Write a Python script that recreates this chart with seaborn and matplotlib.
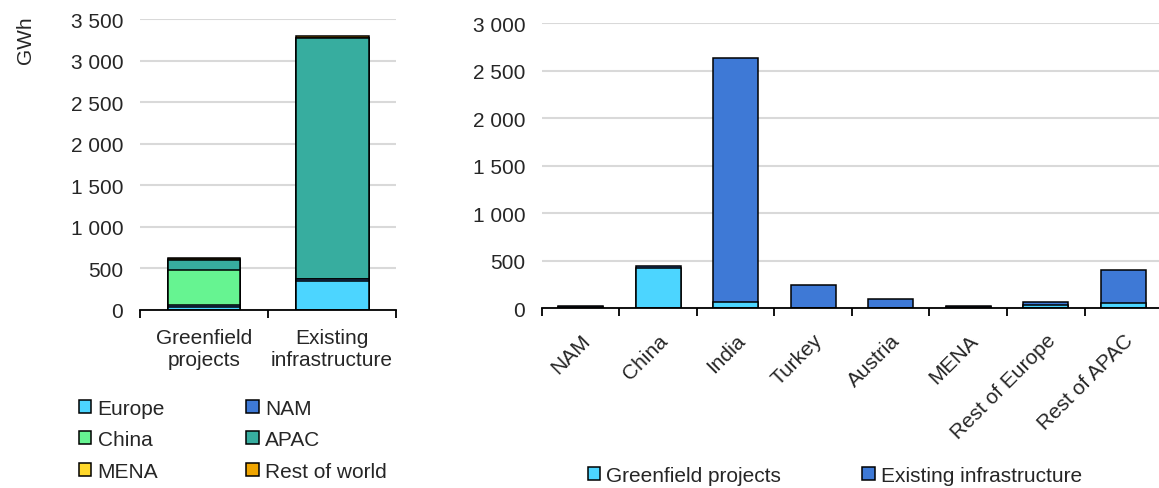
import numpy as np
import pandas as pd
import seaborn as sns
import matplotlib.pyplot as plt
from matplotlib.patches import Patch
from matplotlib.ticker import FuncFormatter, FixedLocator

# Données - graphique de gauche (par type de projet, empilé par région)
projets = ['Greenfield\nprojects', 'Existing\ninfrastructure']
regions = ['Europe', 'NAM', 'China', 'APAC', 'MENA', 'Rest of world']
europe = [35, 340]
nam = [15, 25]
china = [430, 0]
apac = [122, 2905]
mena = [5, 5]
rest_world = [10, 15]

# Données - graphique de droite (par pays, empilé par type)
pays = ['NAM', 'China', 'India', 'Turkey', 'Austria', 'MENA', 'Rest of Europe', 'Rest of APAC']
greenfield = [6, 425, 66, 4, 2, 8, 28, 49]
existing = [18, 15, 2565, 241, 90, 10, 32, 354]

couleurs_reg = ['#4cd5ff', '#3e79d6', '#66f491', '#37ad9f', '#ffd82b', '#f0a500']
couleurs_type = ['#4cd5ff', '#3e79d6']

sns.set_style('white')
plt.rcParams['font.family'] = ['Liberation Sans', 'DejaVu Sans']
fs = 15

fmt = FuncFormatter(lambda v, p: f'{v:,.0f}'.replace(',', ' '))


def empiler(ax, cats, series, couleurs, width):
    # barres cumulées, de la plus haute à la plus basse
    cum = np.cumsum(np.array(series), axis=0)
    for i in range(len(series) - 1, -1, -1):
        df = pd.DataFrame({'cat': cats, 'val': cum[i]})
        sns.barplot(data=df, x='cat', y='val', color=couleurs[i], saturation=1,
                    width=width, edgecolor='black', linewidth=1.1, ax=ax, zorder=3)


def style_axe(ax, n, ymax, step):
    ax.set_ylim(0, ymax)
    ax.set_xlim(-0.5, n - 0.5)
    ax.yaxis.set_major_locator(FixedLocator(np.arange(0, ymax + 1, step)))
    ax.yaxis.set_major_formatter(fmt)
    ax.grid(axis='y', color='#d9d9d9', linewidth=1.5, zorder=0)
    ax.set_axisbelow(True)
    for s in ['top', 'right', 'left']:
        ax.spines[s].set_visible(False)
    ax.spines['bottom'].set_color('black')
    ax.spines['bottom'].set_linewidth(1.3)
    ax.spines['bottom'].set_zorder(5)
    ax.set_xticks(np.arange(-0.5, n), minor=True)
    ax.tick_params(axis='x', which='minor', length=6, width=1.3, color='black', bottom=True)
    ax.tick_params(axis='x', which='major', length=0, labelsize=fs)
    ax.tick_params(axis='y', length=0, labelsize=fs, pad=12)
    ax.set_xlabel('')
    ax.set_ylabel('')


fig = plt.figure(figsize=(11.59, 4.89), dpi=100)
ax1 = fig.add_axes([0.1208, 0.365, 0.2209, 0.594])
ax2 = fig.add_axes([0.4676, 0.368, 0.535, 0.582])

empiler(ax1, projets, [europe, nam, china, apac, mena, rest_world], couleurs_reg, 0.57)
style_axe(ax1, len(projets), 3500, 500)
ax1.tick_params(axis='x', which='major', pad=13)

empiler(ax2, pays, [greenfield, existing], couleurs_type, 0.58)
style_axe(ax2, len(pays), 3000, 500)
for lab in ax2.get_xticklabels():
    lab.set_rotation(45)
    lab.set_ha('right')
    lab.set_va('top')
    lab.set_rotation_mode('anchor')
ax2.tick_params(axis='x', which='major', pad=16)

fig.text(0.022, 0.918, 'GWh', rotation=90, ha='center', va='center', fontsize=fs)

# légende gauche (ordre par colonne)
ordre = [0, 2, 4, 1, 3, 5]
h1 = [Patch(facecolor=couleurs_reg[i], edgecolor='black', linewidth=1.1) for i in ordre]
fig.legend(h1, [regions[i] for i in ordre], loc='upper left', bbox_to_anchor=(0.068, 0.183),
           ncol=2, frameon=False, fontsize=fs, handlelength=0.6, handleheight=0.6,
           handletextpad=0.3, columnspacing=3.9, labelspacing=0.6, borderpad=0, borderaxespad=0)

h2 = [Patch(facecolor=c, edgecolor='black', linewidth=1.1) for c in couleurs_type]
fig.legend(h2, ['Greenfield projects', 'Existing infrastructure'], loc='upper left',
           bbox_to_anchor=(0.507, 0.045), ncol=2, frameon=False, fontsize=fs,
           handlelength=0.6, handleheight=0.6, handletextpad=0.3, columnspacing=3.9,
           borderpad=0, borderaxespad=0)

fig.savefig('out.png', dpi=100)
